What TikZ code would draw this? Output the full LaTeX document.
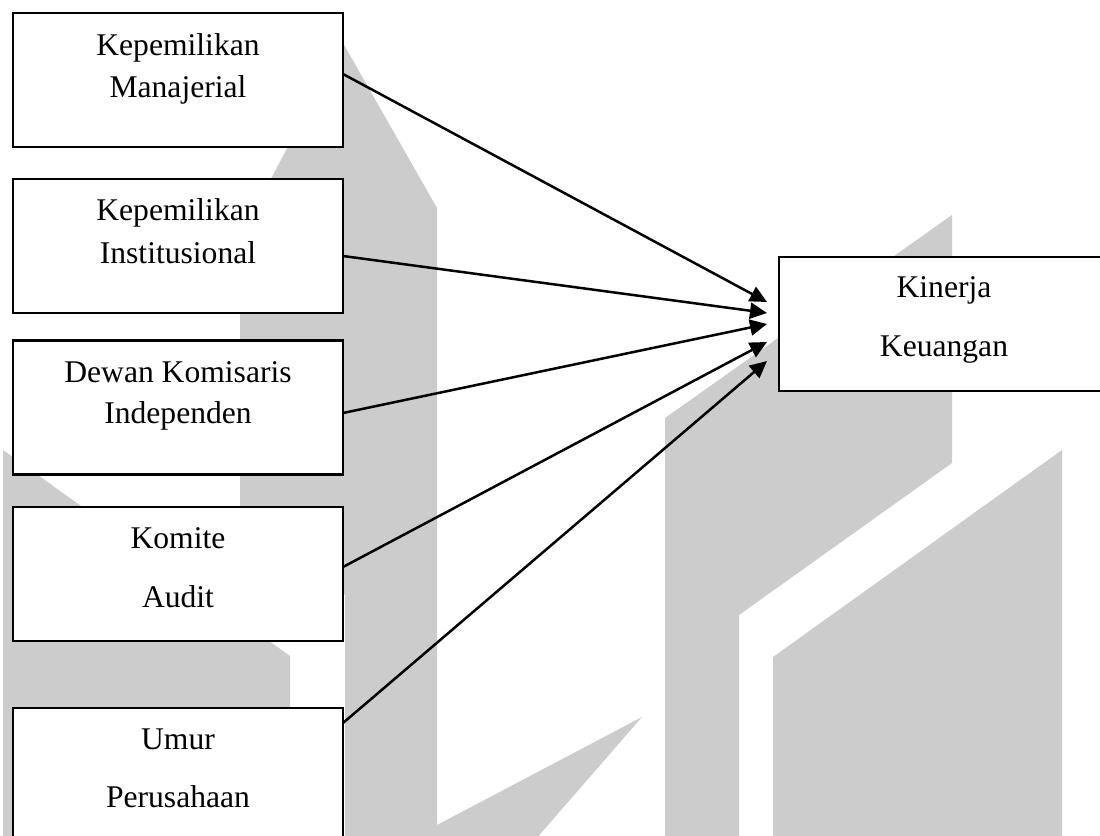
\documentclass[tikz,border=0pt]{standalone}
\usepackage{fontspec}
\setmainfont{Liberation Serif}
\usetikzlibrary{arrows.meta}
\definecolor{wm}{RGB}{204,204,204}
\begin{document}
\begin{tikzpicture}[x=0.5pt,y=-0.5pt,
  box/.style={draw=black, line width=1.1pt, fill=white, minimum width=165pt, minimum height=67pt, inner sep=0pt, outer sep=0pt},
  lbl/.style={font=\fontsize{15.8}{19}\selectfont, inner sep=0pt, anchor=base},
  arr/.style={line width=1.25pt, -{Triangle[length=8.5pt,width=8pt]}},
  wmfill/.style={fill=wm, draw=none}]
\useasboundingbox (0,0) rectangle (1100,836);
\clip (0,0) rectangle (1100,836);
\fill[white] (0,0) rectangle (1100,836);
% watermark
\fill[wmfill] (3,450) -- (290,656) -- (290,840) -- (3,840) -- cycle;
\fill[wmfill] (343,43) -- (437,208) -- (437,840) -- (345,840) -- (345,595) -- (240,520) -- (240,237) -- cycle;
\fill[wmfill] (437,825) -- (642,717) -- (535,840) -- (437,840) -- cycle;
\fill[wmfill] (665,418) -- (952,215) -- (952,463) -- (739,615) -- (739,840) -- (665,840) -- cycle;
\fill[wmfill] (773,657) -- (1062,450) -- (1062,840) -- (773,840) -- cycle;
% boxes
\node[box] (b1) at (178,80) {};
\node[box] (b2) at (178,246) {};
\node[box] (b3) at (178,407.5) {};
\node[box] (b4) at (178,574) {};
\node[box] (b5) at (178,775) {};
\node[box] (kin) at (944,324) {};
% texts
\node[lbl] (t1a) at (178,55) {Kepemilikan};
\node[lbl] (t1b) at (178,97) {Manajerial};
\node[lbl] (t2a) at (178,220.5) {Kepemilikan};
\node[lbl] (t2b) at (178,263) {Institusional};
\node[lbl] (t3a) at (178,382) {Dewan Komisaris};
\node[lbl] (t3b) at (178,423) {Independen};
\node[lbl] (t4a) at (178,548) {Komite};
\node[lbl] (t4b) at (178,607) {Audit};
\node[lbl] (t5a) at (178,749) {Umur};
\node[lbl] (t5b) at (178,807) {Perusahaan};
\node[lbl] (tka) at (944,297) {Kinerja};
\node[lbl] (tkb) at (944,356) {Keuangan};
% arrows
\draw[arr] ([yshift=3pt]b1.east) -- ([xshift=-6pt,yshift=11pt]kin.west);
\draw[arr] ([yshift=-5pt]b2.east) -- ([xshift=-6pt,yshift=5.5pt]kin.west);
\draw[arr] ([yshift=-2.75pt]b3.east) -- ([xshift=-6pt,yshift=0pt]kin.west);
\draw[arr] ([yshift=3.5pt]b4.east) -- ([xshift=-6pt,yshift=-9pt]kin.west);
\draw[arr] ([yshift=26pt]b5.east) -- ([xshift=-6pt,yshift=-18.5pt]kin.west);
\end{tikzpicture}
\end{document}
